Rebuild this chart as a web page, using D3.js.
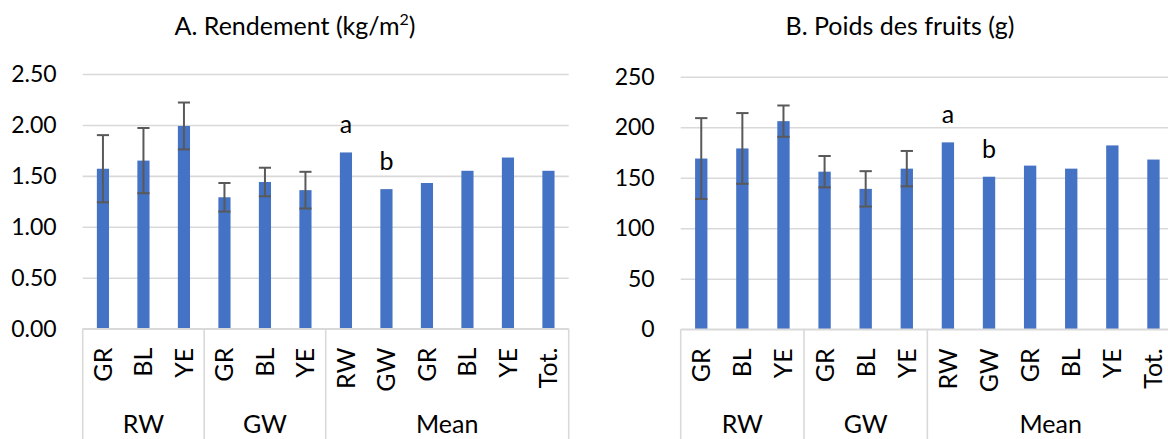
<!DOCTYPE html>
<html lang="fr">
  <head>
    <meta charset="utf-8">
    <script src="https://d3js.org/d3.v7.min.js"></script>
    <style>
      body { margin: 0; background: #fff; }
      svg text { font-family: Lato, "Open Sans", sans-serif; fill: #000; }
    </style>
  </head>
  <body>
    <svg id="chart" width="1168" height="439"></svg>

    <script>
    // categories (bottom level) and their groups (second level)
    var catLabels = ["GR", "BL", "YE", "GR", "BL", "YE", "RW", "GW", "GR", "BL", "YE", "Tot."];
    var catGroups = ["RW", "RW", "RW", "GW", "GW", "GW", "Mean", "Mean", "Mean", "Mean", "Mean", "Mean"];
    var groupNames = ["RW", "GW", "Mean"];

    // A. yield (kg/m2)
    var yieldValues = [1.57, 1.65, 1.99, 1.29, 1.44, 1.36, 1.73, 1.37, 1.43, 1.55, 1.68, 1.55];
    var yieldErrors = [0.33, 0.32, 0.23, 0.14, 0.14, 0.18, null, null, null, null, null, null];
    var yieldTicks = [0, 0.5, 1, 1.5, 2, 2.5];

    // B. fruit weight (g)
    var weightValues = [169, 179, 206, 156, 139, 159, 185, 151, 162, 159, 182, 168];
    var weightErrors = [40, 35, 15.5, 15.5, 17.5, 17.5, null, null, null, null, null, null];
    var weightTicks = [0, 50, 100, 150, 200, 250];

    // significance letters over the RW / GW means
    var letters = ["", "", "", "", "", "", "a", "b", "", "", "", ""];

    var svg = d3.select("#chart");
    var blue = "#4472c4";
    var grid = "#d9d9d9";

    var drawPanel = function(o)
    {
      var x = d3.scaleBand()
        .domain(d3.range(catLabels.length))
        .range([o.left, o.right])
        .paddingInner(0.7)
        .paddingOuter(0.35);

      var y = d3.scaleLinear()
        .domain([0, d3.max(o.ticks)])
        .range([o.bottom, o.top]);

      var g = svg.append("g");

      // title
      var title = g.append("text")
        .attr("x", o.titleX)
        .attr("y", 35)
        .attr("text-anchor", "middle")
        .style("font-size", "25px")
        .text(o.title);
      if (o.sup)
      {
        title.append("tspan")
          .attr("dy", -10)
          .style("font-size", "16px")
          .text(o.sup);
        title.append("tspan")
          .attr("dy", 10)
          .text(")");
      }

      // gridlines + y tick labels
      var yAxis = g.append("g")
        .attr("transform", "translate(" + o.left + ",0)")
        .call(d3.axisLeft(y)
          .tickValues(o.ticks)
          .tickSize(-(o.gridEnd - o.left))
          .tickPadding(26)
          .tickFormat(d3.format(o.format)));
      yAxis.select(".domain").remove();
      yAxis.selectAll(".tick line")
        .attr("stroke", grid)
        .attr("stroke-width", 1.6);
      yAxis.selectAll(".tick text")
        .style("font-size", "23px")
        .attr("fill", "#000");

      // bars
      g.selectAll("rect.bar")
        .data(o.values)
        .enter()
        .append("rect")
        .attr("class", "bar")
        .attr("x", function(d, i) { return x(i); })
        .attr("y", function(d) { return y(d); })
        .attr("width", x.bandwidth())
        .attr("height", function(d) { return y(0) - y(d); })
        .attr("fill", blue);

      // error bars
      var errs = o.values.map(function(d, i) { return {i: i, v: d, e: o.errors[i]}; })
        .filter(function(d) { return d.e != null; });
      var cap = x.bandwidth() / 2;
      var eb = g.selectAll("g.err")
        .data(errs)
        .enter()
        .append("g")
        .attr("class", "err")
        .attr("stroke", "#595959")
        .attr("stroke-width", 2);
      eb.append("line")
        .attr("x1", function(d) { return x(d.i) + cap; })
        .attr("x2", function(d) { return x(d.i) + cap; })
        .attr("y1", function(d) { return y(d.v + d.e); })
        .attr("y2", function(d) { return y(d.v - d.e); });
      [1, -1].forEach(function(s)
      {
        eb.append("line")
          .attr("x1", function(d) { return x(d.i); })
          .attr("x2", function(d) { return x(d.i) + x.bandwidth(); })
          .attr("y1", function(d) { return y(d.v + s * d.e); })
          .attr("y2", function(d) { return y(d.v + s * d.e); });
      });

      // letters
      g.selectAll("text.letter")
        .data(o.values)
        .enter()
        .append("text")
        .attr("class", "letter")
        .attr("x", function(d, i) { return x(i) + cap; })
        .attr("y", function(d) { return y(d) - 19; })
        .attr("text-anchor", "middle")
        .style("font-size", "25px")
        .text(function(d, i) { return letters[i]; });

      // baseline
      g.append("line")
        .attr("x1", o.left)
        .attr("x2", o.gridEnd)
        .attr("y1", y(0))
        .attr("y2", y(0))
        .attr("stroke", grid)
        .attr("stroke-width", 1.6);

      // category labels, rotated
      g.selectAll("text.cat")
        .data(catLabels)
        .enter()
        .append("text")
        .attr("class", "cat")
        .attr("transform", function(d, i)
        {
          return "translate(" + (x(i) + cap) + "," + (y(0) + 19) + ") rotate(-90)";
        })
        .attr("dy", "0.36em")
        .attr("text-anchor", "end")
        .style("font-size", "25px")
        .text(function(d) { return d; });

      // group dividers and group labels
      var half = (x.step() - x.bandwidth()) / 2;
      var bounds = groupNames.map(function(name)
      {
        var idx = d3.range(catGroups.length).filter(function(i) { return catGroups[i] == name; });
        return {
          name: name,
          x0: x(idx[0]) - half,
          x1: x(idx[idx.length - 1]) + x.bandwidth() + half
        };
      });
      var edges = [bounds[0].x0].concat(bounds.map(function(b) { return b.x1; }));
      g.selectAll("line.div")
        .data(edges)
        .enter()
        .append("line")
        .attr("class", "div")
        .attr("x1", function(d) { return d; })
        .attr("x2", function(d) { return d; })
        .attr("y1", y(0))
        .attr("y2", 439)
        .attr("stroke", grid)
        .attr("stroke-width", 1.6);
      g.selectAll("text.grp")
        .data(bounds)
        .enter()
        .append("text")
        .attr("class", "grp")
        .attr("x", function(d) { return (d.x0 + d.x1) / 2; })
        .attr("y", 433)
        .attr("text-anchor", "middle")
        .style("font-size", "25px")
        .text(function(d) { return d.name; });
    };

    drawPanel({
      title: "A. Rendement (kg/m", sup: "2", titleX: 295,
      values: yieldValues, errors: yieldErrors, ticks: yieldTicks, format: ".2f",
      left: 82.7, right: 568.7, gridEnd: 568.7, top: 74, bottom: 328.7
    });

    drawPanel({
      title: "B. Poids des fruits (g)", sup: null, titleX: 900,
      values: weightValues, errors: weightErrors, ticks: weightTicks, format: "d",
      left: 680.7, right: 1174, gridEnd: 1174, top: 76.7, bottom: 329.3
    });
    </script>
  </body>
</html>
